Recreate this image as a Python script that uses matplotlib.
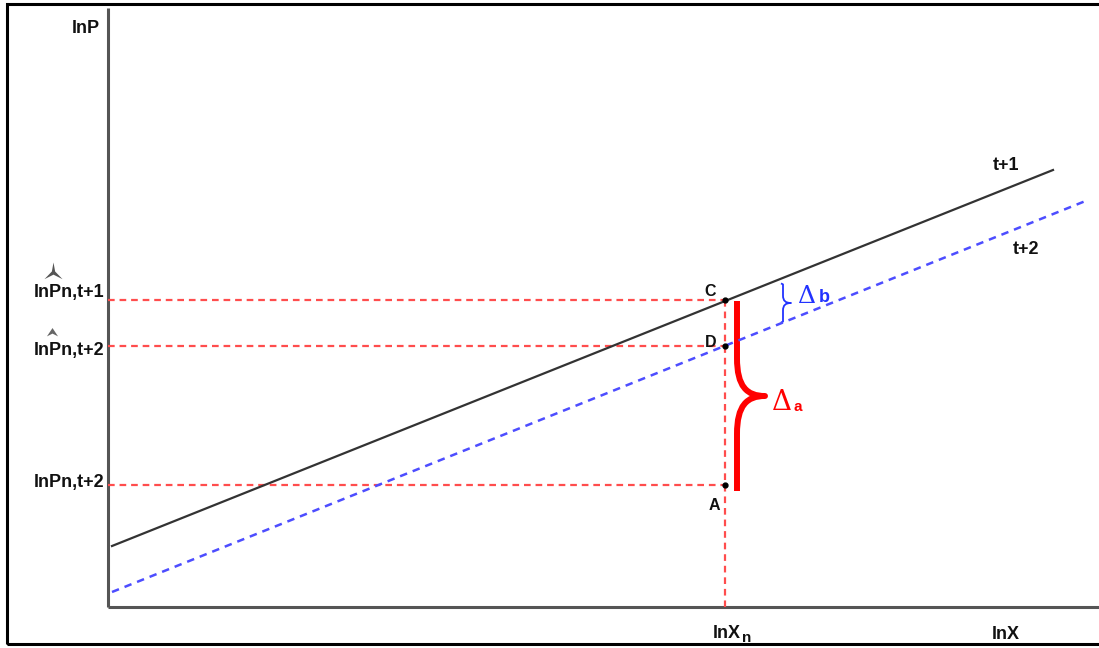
import matplotlib
matplotlib.use("Agg")
import matplotlib.pyplot as plt
from matplotlib.path import Path
from matplotlib.patches import PathPatch, Rectangle

# schedule lines in (lnX, lnP) units, origin at the axes corner
line_t1_x = [0.04, 9.45]
line_t1_p = [0.61, 4.37]
line_t2_x = [0.04, 9.80]
line_t2_p = [0.15, 4.07]

x_n = 6.17                      # lnXn
point_names = ["C", "D", "A"]
point_p = [3.07, 2.61, 1.22]    # lnP of C, D, A at lnXn
tick_labels = ["lnPn,t+1", "lnPn,t+2", "lnPn,t+2"]

RED_DASH = "#ff4d4d"
BLUE_DASH = "#4d4dff"
FONT = "Liberation Sans"


def px(x, y):
    """pixel position of the 1099x648 canvas -> data coords"""
    return (x - 108) / 100.0, (607 - y) / 100.0


def brace(ax, x, top, bottom, width, color, lw, hook=0.0):
    mid = (top + bottom) / 2.0
    q = (top - bottom) * 0.2
    verts = [(x - hook, top + hook * 0.3), (x, top - hook * 0.2),
             (x, mid + q),
             (x, mid + q * 0.25), (x + width * 0.35, mid), (x + width, mid),
             (x + width * 0.35, mid), (x, mid - q * 0.25), (x, mid - q),
             (x, bottom + hook * 0.2), (x - hook, bottom - hook * 0.3)]
    codes = [Path.MOVETO, Path.LINETO, Path.LINETO,
             Path.CURVE4, Path.CURVE4, Path.CURVE4,
             Path.CURVE4, Path.CURVE4, Path.CURVE4,
             Path.LINETO, Path.LINETO]
    ax.add_patch(PathPatch(Path(verts, codes), fill=False, ec=color, lw=lw,
                           capstyle="butt", joinstyle="round"))


fig = plt.figure(figsize=(10.99, 6.48), dpi=100)
ax = fig.add_axes([0, 0, 1, 1])
ax.set_xlim(-1.08, 9.91)
ax.set_ylim(-0.41, 6.07)
ax.axis("off")

# outer frame (right side runs off the picture)
fig.patches.append(Rectangle((7 / 1099, 1 - 644 / 648), 1.2, 640 / 648,
                             transform=fig.transFigure, fill=False,
                             ec="black", lw=2.2))

# axes
ax.plot([0, 0], [0, 5.99], color="#555555", lw=2.2, solid_capstyle="butt")
ax.plot([0, 9.91], [0, 0], color="#555555", lw=2.2, solid_capstyle="butt")

# guide lines to A, C, D
for p in point_p:
    ax.plot([0, x_n], [p, p], color=RED_DASH, lw=1.6, ls=(0, (3, 2.2)))
ax.plot([x_n, x_n], [max(point_p), 0], color=RED_DASH, lw=1.6,
        ls=(0, (3, 2.2)))

# the two lines
ax.plot(line_t1_x, line_t1_p, color="#333333", lw=1.6)
ax.plot(line_t2_x, line_t2_p, color=BLUE_DASH, lw=1.8, ls=(0, (3, 2.4)))

ax.plot([x_n] * len(point_p), point_p, "o", color="black", ms=3.5)

label_px = [(716, 296), (716, 347), (720, 510)]
for name, (lx, ly) in zip(point_names, label_px):
    ax.text(*px(lx, ly), name, ha="right", va="baseline", fontsize=11.5,
            fontweight="bold", family=FONT, color="#111111")

# left tick labels
tick_off = [-3, 9, 2]
for p, lab, off in zip(point_p, tick_labels, tick_off):
    y_pix = 607 - p * 100 + off
    ax.text(*px(104, y_pix), lab, ha="right", va="baseline", fontsize=13,
            fontweight="bold", family=FONT, color="#111111")

# hats over P
big_hat = Path([(0, 1), (0.18, 0.0), (1, -0.85), (0, -0.35), (-1, -0.85),
                (-0.18, 0.0), (0, 1)],
               [Path.MOVETO] + [Path.LINETO] * 5 + [Path.CLOSEPOLY])
ax.plot(*px(53, 271), marker=big_hat, color="#555555", ms=13, mew=0)
hat = Path([(-1, -0.7), (0, 0.8), (1, -0.7), (0, -0.2), (-1, -0.7)],
           [Path.MOVETO, Path.LINETO, Path.LINETO, Path.LINETO,
            Path.CLOSEPOLY])
ax.plot(*px(52, 332), marker=hat, color="#666666", ms=8, mew=0)

# axis titles
ax.text(*px(100, 33), "lnP", ha="right", va="baseline", fontsize=13,
        fontweight="bold", family=FONT, color="#111111")
ax.text(*px(713, 638), "lnX", ha="left", va="baseline", fontsize=13,
        fontweight="bold", family=FONT, color="#111111")
ax.text(*px(742, 642), "n", ha="left", va="baseline", fontsize=11,
        fontweight="bold", family=FONT, color="#111111")
ax.text(*px(992, 639), "lnX", ha="left", va="baseline", fontsize=13,
        fontweight="bold", family=FONT, color="#111111")

ax.text(*px(1006, 165), "t+1", ha="center", va="center", fontsize=13,
        fontweight="bold", family=FONT, color="#111111")
ax.text(*px(1026, 250), "t+2", ha="center", va="center", fontsize=13,
        fontweight="bold", family=FONT, color="#111111")

# braces and deltas
bx, _ = px(737, 0)
tx, _ = px(765, 0)
_, top = px(0, 301)
_, bot = px(0, 491)
brace(ax, bx, top, bot, tx - bx, "#ff0000", 4.3)

bx, _ = px(783, 0)
tx, _ = px(791, 0)
_, top = px(0, 284)
_, bot = px(0, 322)
brace(ax, bx, top, bot, tx - bx, "#2233ff", 1.3, hook=0.02)

ax.text(*px(772, 410), "Δ", ha="left", va="baseline", fontsize=20,
        family="DejaVu Serif", color="#ff0000")
ax.text(*px(794, 411), "a", ha="left", va="baseline", fontsize=11,
        fontweight="bold", family=FONT, color="#ff0000")
ax.text(*px(797, 303), "Δ", ha="left", va="baseline", fontsize=18,
        family="DejaVu Serif", color="#2233ff")
ax.text(*px(819, 302), "b", ha="left", va="baseline", fontsize=13,
        fontweight="bold", family=FONT, color="#2233ff")

fig.savefig("out.png", dpi=100, facecolor="white")
